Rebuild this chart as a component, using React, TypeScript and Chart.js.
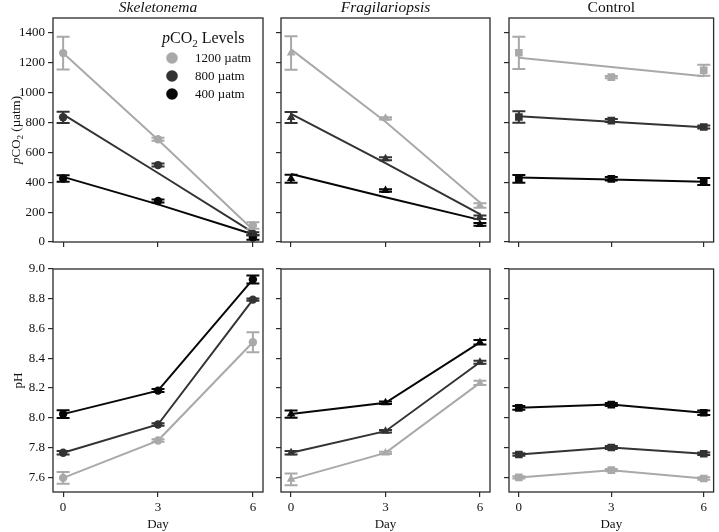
import React, { useEffect, useRef } from 'react';
import { Chart, registerables } from 'chart.js';

Chart.register(...registerables);

// ---- data ----
const DAYS = [0, 3, 6];
const DAY_TICKS = [0, 3, 6];
const PCO2_TICKS = [0, 200, 400, 600, 800, 1000, 1200, 1400];
const PH_TICKS = [7.6, 7.8, 8.0, 8.2, 8.4, 8.6, 8.8, 9.0];

const LEVEL_LABELS = ['1200 µatm', '800 µatm', '400 µatm'];
const SPECIES = ['Skeletonema', 'Fragilariopsis', 'Control'];

// rows follow LEVEL_LABELS; columns follow DAYS
const SKEL_PCO2 = [[1265, 688, 110], [835, 515, 55], [425, 275, 30]];
const SKEL_PCO2_SE = [[110, 10, 22], [38, 10, 10], [22, 10, 15]];
const SKEL_PCO2_FIT = [[1265, 685, 82], [855, 462, 65], [436, 252, 52]];

const FRAG_PCO2 = [[1265, 828, 245], [834, 557, 166], [423, 345, 118]];
const FRAG_PCO2_SE = [[112, 8, 15], [37, 10, 12], [27, 8, 10]];
const FRAG_PCO2_FIT = [[1290, 805, 264], [858, 528, 186], [455, 300, 148]];

const CTRL_PCO2 = [[1267, 1104, 1150], [837, 813, 770], [423, 423, 405]];
const CTRL_PCO2_SE = [[108, 8, 37], [39, 10, 10], [26, 12, 24]];
const CTRL_PCO2_FIT = [[1234, 1172, 1110], [842, 805, 768], [432, 418, 403]];

const SKEL_PH = [[7.595, 7.846, 8.507], [7.764, 7.954, 8.794], [8.024, 8.182, 8.93]];
const SKEL_PH_SE = [[0.04, 0.008, 0.067], [0.012, 0.008, 0.008], [0.026, 0.01, 0.027]];
const FRAG_PH = [[7.585, 7.763, 8.234], [7.764, 7.909, 8.373], [8.024, 8.1, 8.507]];
const FRAG_PH_SE = [[0.04, 0.008, 0.015], [0.012, 0.008, 0.01], [0.025, 0.008, 0.015]];
const CTRL_PH = [[7.598, 7.647, 7.591], [7.752, 7.799, 7.757], [8.066, 8.088, 8.033]];
const CTRL_PH_SE = [[0.008, 0.008, 0.008], [0.008, 0.01, 0.008], [0.012, 0.01, 0.015]];

// ---- styling ----
const FONT = '"Liberation Serif", "DejaVu Serif", "Times New Roman", serif';
const LEVEL_COLORS = ['#a9a9a9', '#333333', '#070707'];
const MARKERS = ['circle', 'triangle', 'rect'];
const MARKER_RADIUS = [4.2, 5, 5.4];
const FRAME = '#2a2a2a';
const TEXT = '#111111';

const W = 719;
const H = 532;
const Y_AXIS_W = 45;
const X_AXIS_H = 20;
const COLS = [
  { L: 53, R: 263 },
  { L: 281, R: 490 },
  { L: 509, R: 717 },
];
const ROWS = [
  { T: 18, B: 242 },
  { T: 269, B: 492 },
];

type Part = { t: string; italic?: boolean; sub?: boolean };

function drawRich(ctx: CanvasRenderingContext2D, parts: Part[], x: number, yMid: number, size: number, align: 'left' | 'center') {
  const fontFor = (p: Part) => `${p.italic ? 'italic ' : ''}${p.sub ? Math.round(size * 0.7) : size}px ${FONT}`;
  let w = 0;
  for (const p of parts) {
    ctx.font = fontFor(p);
    w += ctx.measureText(p.t).width;
  }
  let cx = align === 'center' ? x - w / 2 : x;
  const base = yMid + size * 0.33;
  ctx.textAlign = 'left';
  ctx.textBaseline = 'alphabetic';
  for (const p of parts) {
    ctx.font = fontFor(p);
    ctx.fillText(p.t, cx, p.sub ? base + size * 0.22 : base);
    cx += ctx.measureText(p.t).width;
  }
}

const PCO2_TITLE: Part[] = [
  { t: 'p', italic: true },
  { t: 'CO' },
  { t: '2', sub: true },
  { t: ' (µatm)' },
];
const LEGEND_TITLE: Part[] = [
  { t: 'p', italic: true },
  { t: 'CO' },
  { t: '2', sub: true },
  { t: ' Levels' },
];

// error bars drawn from each dataset's `errors` array
const errorBarPlugin = {
  id: 'errorBars',
  afterDatasetsDraw(chart: any) {
    const { ctx, scales } = chart;
    const x = scales.x;
    const y = scales.y;
    chart.data.datasets.forEach((ds: any) => {
      if (!ds.errors) return;
      ctx.save();
      ctx.strokeStyle = ds.borderColor;
      ctx.lineWidth = 2;
      ds.data.forEach((p: any, i: number) => {
        const e = ds.errors[i];
        const px = x.getPixelForValue(p.x);
        const top = y.getPixelForValue(p.y + e);
        const bot = y.getPixelForValue(p.y - e);
        ctx.beginPath();
        ctx.moveTo(px, top);
        ctx.lineTo(px, bot);
        ctx.moveTo(px - 6.5, top);
        ctx.lineTo(px + 6.5, top);
        ctx.moveTo(px - 6.5, bot);
        ctx.lineTo(px + 6.5, bot);
        ctx.stroke();
      });
      ctx.restore();
    });
  },
};

// frame, panel title, axis titles and legend
const decorPlugin = {
  id: 'decor',
  afterDraw(chart: any, _args: any, opts: any) {
    const { ctx, chartArea: a } = chart;
    ctx.save();
    ctx.strokeStyle = FRAME;
    ctx.lineWidth = 1.3;
    ctx.strokeRect(a.left, a.top, a.right - a.left, a.bottom - a.top);
    ctx.fillStyle = TEXT;
    const cx = (a.left + a.right) / 2;
    const cy = (a.top + a.bottom) / 2;
    if (opts.title) {
      drawRich(ctx, [{ t: opts.title, italic: opts.italic }], cx, 7, 15.5, 'center');
    }
    if (opts.xTitle) {
      drawRich(ctx, [{ t: opts.xTitle }], cx, 524, 13, 'center');
    }
    if (opts.yTitle) {
      ctx.save();
      ctx.translate(opts.yTitleX, cy);
      ctx.rotate(-Math.PI / 2);
      drawRich(ctx, opts.yTitle, 0, 0, 13, 'center');
      ctx.restore();
    }
    if (opts.legend) {
      drawRich(ctx, LEGEND_TITLE, 162, 38, 16, 'left');
      LEVEL_LABELS.forEach((lab, i) => {
        const yy = 58 + i * 18;
        ctx.beginPath();
        ctx.fillStyle = LEVEL_COLORS[i];
        ctx.arc(172, yy, 5.8, 0, Math.PI * 2);
        ctx.fill();
        ctx.fillStyle = TEXT;
        drawRich(ctx, [{ t: lab }], 195, yy, 13, 'left');
      });
    }
    ctx.restore();
  },
};

type PanelSpec = {
  row: number;
  col: number;
  means: number[][];
  errors: number[][];
  fits?: number[][];
};

function buildConfig(p: PanelSpec): any {
  const { L, R } = COLS[p.col];
  const { T, B } = ROWS[p.row];
  const isPh = p.row === 1;
  const datasets: any[] = [];
  // 400 µatm first so the darkest series sits on top
  for (let k = 2; k >= 0; k--) {
    const color = LEVEL_COLORS[k];
    datasets.push({
      label: LEVEL_LABELS[k],
      data: DAYS.map((d, i) => ({ x: d, y: p.means[k][i] })),
      errors: p.errors[k],
      showLine: isPh,
      borderColor: color,
      backgroundColor: color,
      borderWidth: 2,
      pointStyle: MARKERS[p.col],
      pointRadius: MARKER_RADIUS[p.col],
      pointBackgroundColor: color,
      pointBorderColor: color,
      pointBorderWidth: 0,
      tension: 0,
    });
  }
  if (p.fits) {
    for (let k = 2; k >= 0; k--) {
      const color = LEVEL_COLORS[k];
      datasets.push({
        label: LEVEL_LABELS[k] + ' fit',
        data: DAYS.map((d, i) => ({ x: d, y: p.fits![k][i] })),
        showLine: true,
        borderColor: color,
        borderWidth: 2,
        pointRadius: 0,
        tension: 0,
      });
    }
  }
  const tickFont = { family: FONT, size: 13 };
  return {
    type: 'line',
    data: { datasets },
    plugins: [errorBarPlugin, decorPlugin],
    options: {
      responsive: false,
      maintainAspectRatio: false,
      animation: false,
      events: [],
      layout: {
        padding: { left: L - Y_AXIS_W, right: W - R, top: T, bottom: H - B - X_AXIS_H },
      },
      plugins: {
        legend: { display: false },
        tooltip: { enabled: false },
        decor: {
          title: p.row === 0 ? SPECIES[p.col] : null,
          italic: p.col < 2,
          xTitle: p.row === 1 ? 'Day' : null,
          yTitle: p.col === 0 ? (isPh ? [{ t: 'pH' }] : PCO2_TITLE) : null,
          yTitleX: isPh ? 18 : 16,
          legend: p.row === 0 && p.col === 0,
        },
      },
      scales: {
        x: {
          type: 'linear',
          min: -0.32,
          max: 6.32,
          afterBuildTicks: (s: any) => {
            s.ticks = DAY_TICKS.map((v) => ({ value: v }));
          },
          afterFit: (s: any) => {
            s.height = X_AXIS_H;
          },
          ticks: {
            font: tickFont,
            color: TEXT,
            padding: 3,
            maxRotation: 0,
            autoSkip: false,
            callback: (v: any) => (isPh ? String(v) : ''),
          },
          grid: { display: true, drawOnChartArea: false, drawTicks: true, tickLength: 5, color: FRAME, lineWidth: 1.2 },
          border: { display: false },
        },
        y: {
          type: 'linear',
          min: isPh ? 7.5 : 0,
          max: isPh ? 9.0 : 1500,
          afterBuildTicks: (s: any) => {
            s.ticks = (isPh ? PH_TICKS : PCO2_TICKS).map((v) => ({ value: v }));
          },
          afterFit: (s: any) => {
            s.width = Y_AXIS_W;
          },
          ticks: {
            font: tickFont,
            color: TEXT,
            padding: 3,
            autoSkip: false,
            callback: (v: any) => (p.col !== 0 ? '' : isPh ? Number(v).toFixed(1) : String(v)),
          },
          grid: { display: true, drawOnChartArea: false, drawTicks: true, tickLength: 5, color: FRAME, lineWidth: 1.2 },
          border: { display: false },
        },
      },
    },
  };
}

const PANELS: PanelSpec[] = [
  { row: 0, col: 0, means: SKEL_PCO2, errors: SKEL_PCO2_SE, fits: SKEL_PCO2_FIT },
  { row: 0, col: 1, means: FRAG_PCO2, errors: FRAG_PCO2_SE, fits: FRAG_PCO2_FIT },
  { row: 0, col: 2, means: CTRL_PCO2, errors: CTRL_PCO2_SE, fits: CTRL_PCO2_FIT },
  { row: 1, col: 0, means: SKEL_PH, errors: SKEL_PH_SE },
  { row: 1, col: 1, means: FRAG_PH, errors: FRAG_PH_SE },
  { row: 1, col: 2, means: CTRL_PH, errors: CTRL_PH_SE },
];

function Panel({ spec }: { spec: PanelSpec }) {
  const ref = useRef<HTMLCanvasElement>(null);
  useEffect(() => {
    if (!ref.current) return;
    const chart = new Chart(ref.current, buildConfig(spec));
    return () => chart.destroy();
  }, [spec]);
  return (
    <canvas
      ref={ref}
      width={W}
      height={H}
      style={{ position: 'absolute', left: 0, top: 0, width: W, height: H }}
    />
  );
}

export default function App() {
  return (
    <div style={{ position: 'fixed', left: 0, top: 0, width: W, height: H, background: '#ffffff' }}>
      {PANELS.map((s, i) => (
        <Panel key={i} spec={s} />
      ))}
    </div>
  );
}
